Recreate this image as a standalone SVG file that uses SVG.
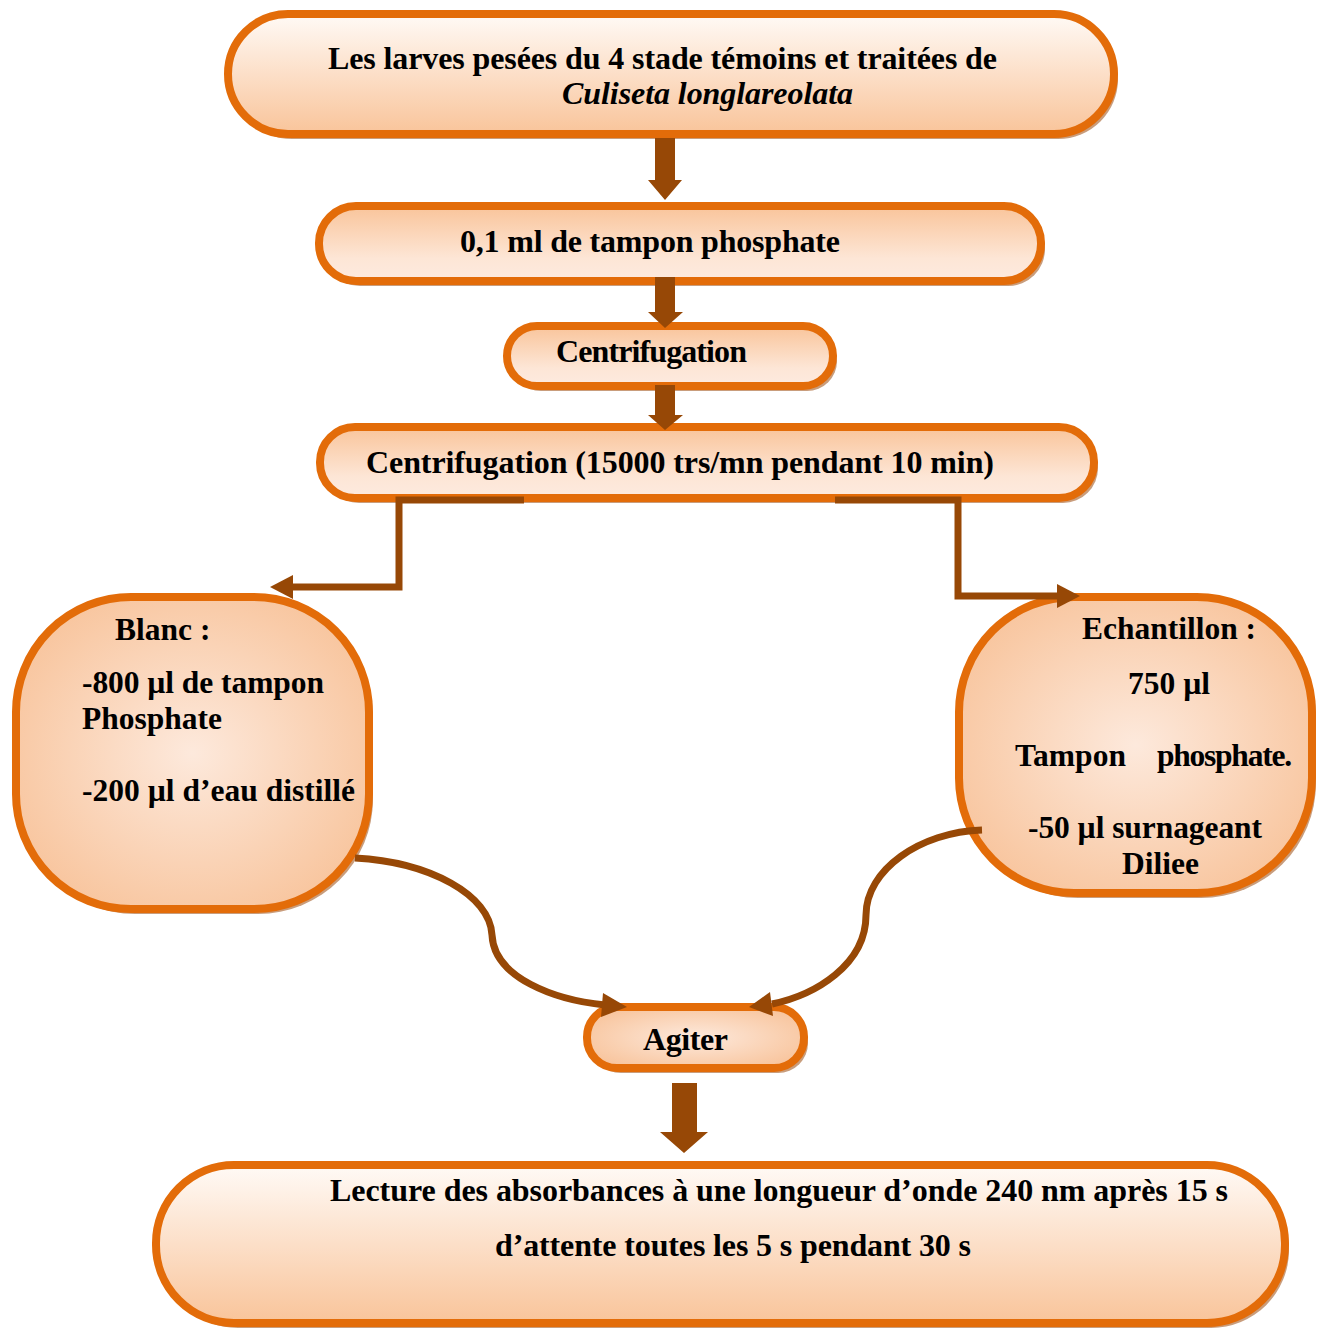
<svg xmlns="http://www.w3.org/2000/svg" width="1322" height="1329" viewBox="0 0 1322 1329">
<style>
.box{stroke:#e36c09;stroke-width:8}
.sh{fill:#c99d7c}
.t{font-family:"Liberation Serif","Times New Roman",serif;font-weight:bold;font-size:32px;fill:#000}
.s{font-size:31.5px}
.conn{fill:none;stroke:#974806;stroke-width:7}
.blk{fill:#974806}
</style>
<defs>
<linearGradient id="gDown" x1="0" y1="0" x2="0" y2="1">
<stop offset="0" stop-color="#fffaf6"/>
<stop offset="1" stop-color="#f9c49a"/>
</linearGradient>
<linearGradient id="gUp" x1="0" y1="0" x2="0" y2="1">
<stop offset="0" stop-color="#f9c49a"/>
<stop offset="0.7" stop-color="#fde6d6"/>
<stop offset="1" stop-color="#fdeadf"/>
</linearGradient>
<radialGradient id="gRad" cx="0.5" cy="0.5" r="0.7">
<stop offset="0" stop-color="#fde9dc"/>
<stop offset="1" stop-color="#f7bd90"/>
</radialGradient>
</defs>

<g id="n1">
<rect class="sh" x="232" y="19" width="886" height="120" rx="60"/>
<rect class="box" x="228" y="14" width="886" height="120" rx="60" fill="url(#gDown)"/>
<text class="t" x="328" y="69" textLength="669">Les larves pesées du 4 stade témoins et traitées de</text>
<text class="t" x="562" y="104" font-style="italic" textLength="291">Culiseta longlareolata</text>
</g>

<g id="n2">
<rect class="sh" x="323" y="211" width="722" height="75" rx="37"/>
<rect class="box" x="319" y="206" width="722" height="75" rx="37" fill="url(#gUp)"/>
<text class="t" x="460" y="252" textLength="380">0,1 ml de tampon phosphate</text>
</g>

<g id="n3">
<rect class="sh" x="511" y="331" width="326" height="60" rx="30"/>
<rect class="box" x="507" y="326" width="326" height="60" rx="30" fill="url(#gUp)"/>
<text class="t" x="556" y="362" textLength="191">Centrifugation</text>
</g>

<g id="n4">
<rect class="sh" x="324" y="432" width="774" height="71" rx="35"/>
<rect class="box" x="320" y="427" width="774" height="71" rx="35" fill="url(#gUp)"/>
<text class="t" x="366" y="473" textLength="628">Centrifugation (15000 trs/mn pendant 10 min)</text>
</g>

<g id="n5">
<rect class="sh" x="20" y="602" width="353" height="312" rx="115"/>
<rect class="box" x="16" y="597" width="353" height="312" rx="115" fill="url(#gRad)"/>
<text class="t s" x="115" y="640">Blanc :</text>
<text class="t s" x="82" y="693" textLength="242">-800 µl de tampon</text>
<text class="t s" x="82" y="729">Phosphate</text>
<text class="t s" x="82" y="801" textLength="273">-200 µl d’eau distillé</text>
</g>

<g id="n6">
<rect class="sh" x="963" y="602" width="353" height="296" rx="115"/>
<rect class="box" x="959" y="597" width="353" height="296" rx="115" fill="url(#gRad)"/>
<text class="t s" x="1082" y="639" textLength="174">Echantillon :</text>
<text class="t s" x="1128" y="694">750 µl</text>
<text class="t s" x="1015" y="766">Tampon</text>
<text class="t s" x="1157" y="766" textLength="135">phosphate.</text>
<text class="t s" x="1028" y="838" textLength="234">-50 µl surnageant</text>
<text class="t s" x="1122" y="874">Diliee</text>
</g>

<g id="n7">
<rect class="sh" x="591" y="1012" width="217" height="61" rx="30"/>
<rect class="box" x="587" y="1007" width="217" height="61" rx="30" fill="url(#gRad)"/>
<text class="t" x="643" y="1050" textLength="85">Agiter</text>
</g>

<g id="n8">
<rect class="sh" x="160" y="1170" width="1129" height="158" rx="78"/>
<rect class="box" x="156" y="1165" width="1129" height="158" rx="78" fill="url(#gDown)"/>
<text class="t" x="330" y="1201" textLength="898">Lecture des absorbances à une longueur d’onde 240 nm après 15 s</text>
<text class="t" x="495" y="1256" textLength="476">d’attente toutes les 5 s pendant 30 s</text>
</g>

<g id="connectors">
<path class="blk" d="M655,138 H675 V180 H682 L665,200 L648,180 H655 Z"/>
<path class="blk" d="M655,277 H675 V312 H683 L665,328 L648,312 H655 Z"/>
<path class="blk" d="M655,385 H675 V415 H683 L665,430 L648,415 H655 Z"/>
<path class="blk" d="M672,1083 H697 V1132 H708 L684,1153 L660,1132 H672 Z"/>
<path class="conn" d="M524,500 H399 V587 H290"/>
<path class="blk" d="M293,575 L270,587 L293,599 Z"/>
<path class="conn" d="M835,500 H958 V596 H1060"/>
<path class="blk" d="M1057,584 L1080,596 L1057,608 Z"/>
<path class="conn" d="M355,858 C430,862 490,895 492,935 C494,978 555,1000 605,1005"/>
<path class="blk" d="M603,993 L627,1007 L601,1017 Z"/>
<path class="conn" d="M982,830 C920,832 866,870 866,915 C866,965 815,995 772,1004"/>
<path class="blk" d="M770,992 L749,1007 L773,1016 Z"/>
</g>
</svg>
